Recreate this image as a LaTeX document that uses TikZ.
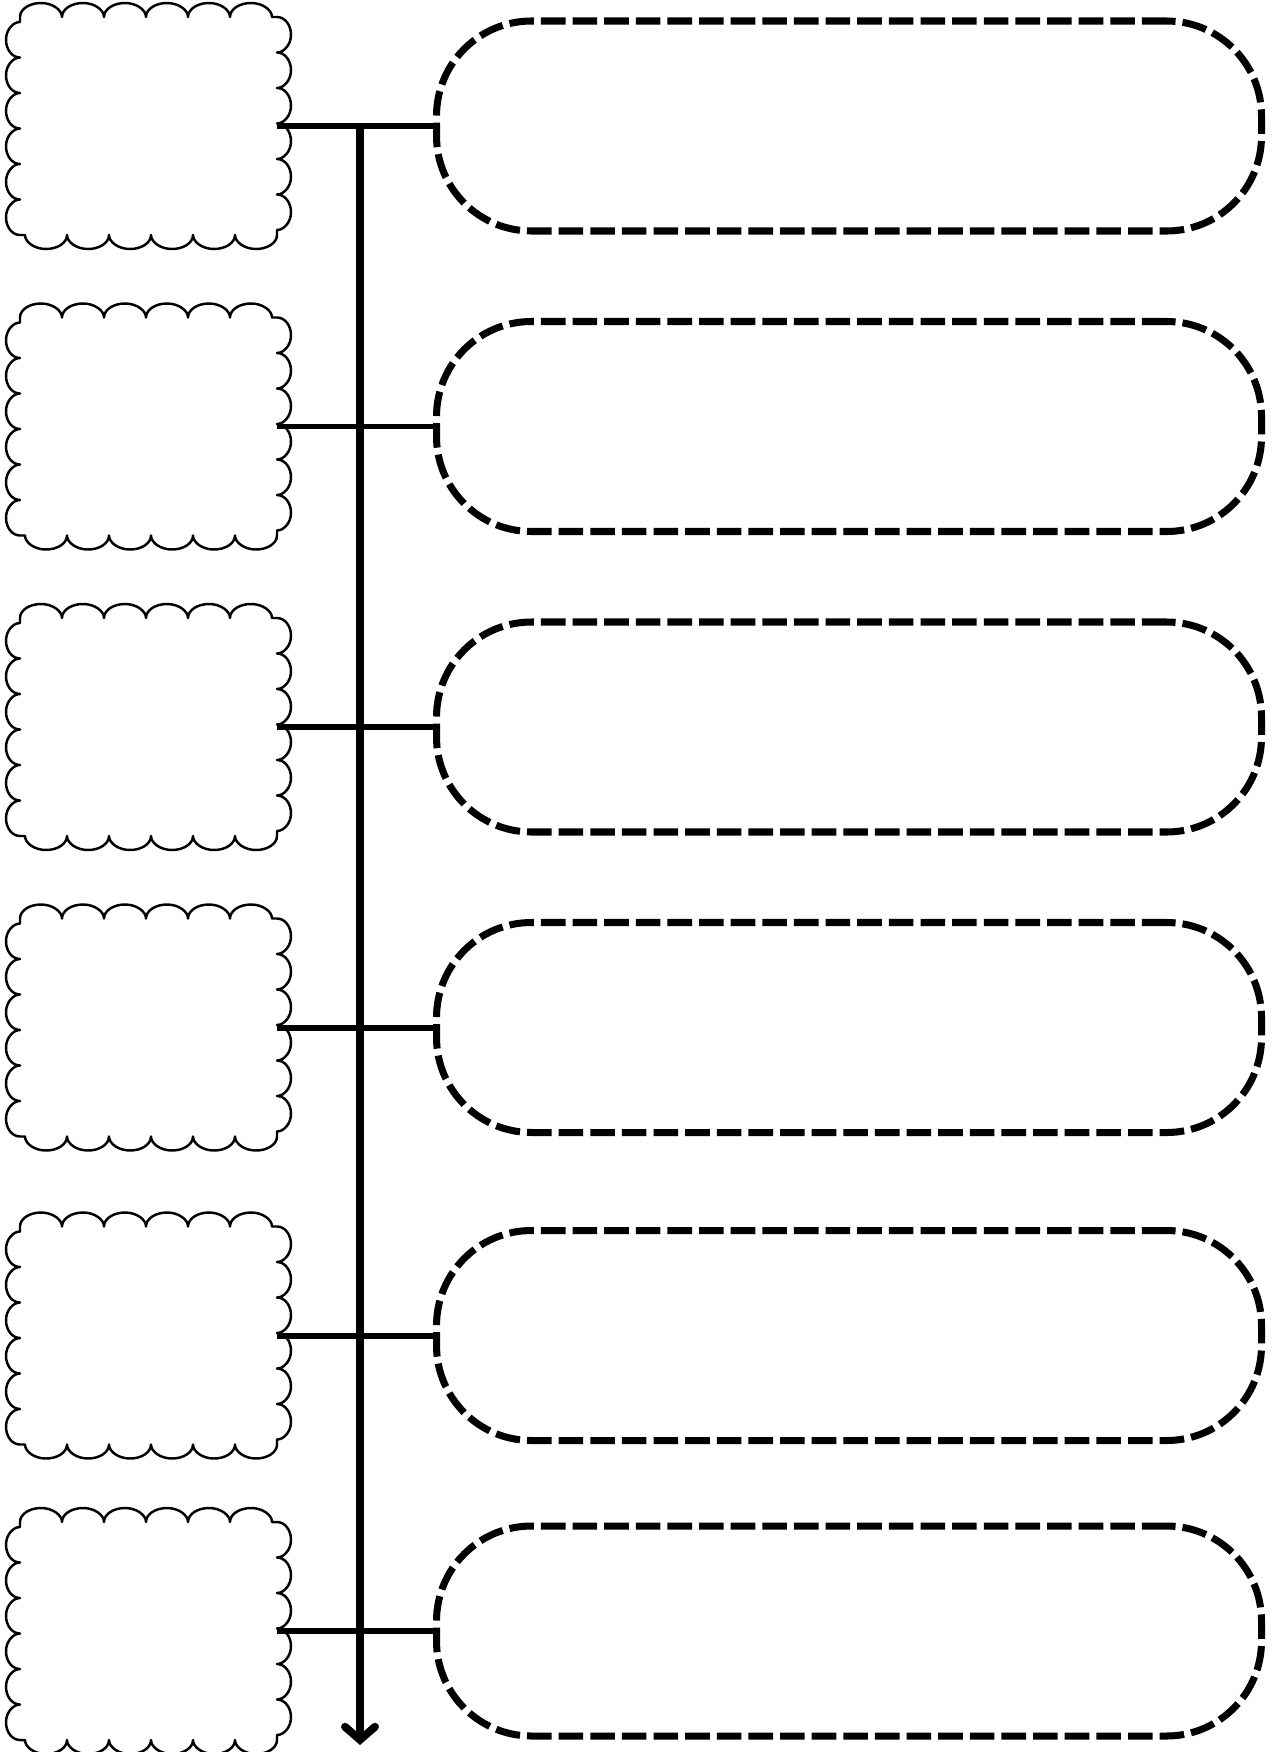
\documentclass[tikz,border=0pt]{standalone}
\usepackage{tikz}
\usetikzlibrary{arrows.meta, calc, positioning, decorations.pathmorphing}

\begin{document}
\begin{tikzpicture}[
        node distance=1.65cm and 3.12cm,
        cloudbox/.style={minimum width=5.14cm, minimum height=4.36cm, outer sep=0pt},
        cloudline/.style={line width=1.4pt, line join=round},
        wavyh/.style={decoration={bumps, segment length=1.68cm, amplitude=0.28cm}},
        wavyv/.style={decoration={bumps, segment length=1.42cm, amplitude=0.28cm}},
        pill/.style={draw, line width=4pt, dash pattern=on 14pt off 4pt, rounded corners=1.9cm,
            minimum width=16.5cm, minimum height=4.2cm},
        link/.style={line width=3.4pt},
        spine/.style={line width=4.5pt, ->},
        >={Straight Barb[length=2.6mm, width=6mm, line cap=round]}
    ]
        \useasboundingbox (0,0) rectangle (25.64,-35.04);

        \node[cloudbox] (cloud1) at (2.97,-2.52) {};
        \node[cloudbox, below=of cloud1] (cloud2) {};
        \node[cloudbox, below=of cloud2] (cloud3) {};
        \node[cloudbox, below=of cloud3] (cloud4) {};
        \node[cloudbox, below=1.8cm of cloud4] (cloud5) {};
        \node[cloudbox, below=1.55cm of cloud5] (cloud6) {};

        \node[pill, right=of cloud1] (pill1) {};
        \node[pill, right=of cloud2] (pill2) {};
        \node[pill, right=of cloud3] (pill3) {};
        \node[pill, right=of cloud4] (pill4) {};
        \node[pill, right=of cloud5] (pill5) {};
        \node[pill, right=of cloud6] (pill6) {};

        % wavy outlines, one bump row per side
        \foreach \i in {1,...,6}
            \draw[cloudline] (cloud\i.north west)
                decorate[wavyh] {-- (cloud\i.north east)}
                decorate[wavyv] {-- (cloud\i.south east)}
                decorate[wavyh] {-- (cloud\i.south west)}
                decorate[wavyv] {-- (cloud\i.north west)} -- cycle;

        \coordinate (spinetop) at (cloud1.east -| 7.2,0);
        \coordinate (spineend) at (7.2,-34.9);

        \draw[link] (cloud1.east) -- (pill1.west);
        \draw[link] (cloud2.east) -- (pill2.west);
        \draw[link] (cloud3.east) -- (pill3.west);
        \draw[link] (cloud4.east) -- (pill4.west);
        \draw[link] (cloud5.east) -- (pill5.west);
        \draw[link] (cloud6.east) -- (pill6.west);

        \draw[spine] (spinetop) -- (spineend);
    \end{tikzpicture}
\end{document}
